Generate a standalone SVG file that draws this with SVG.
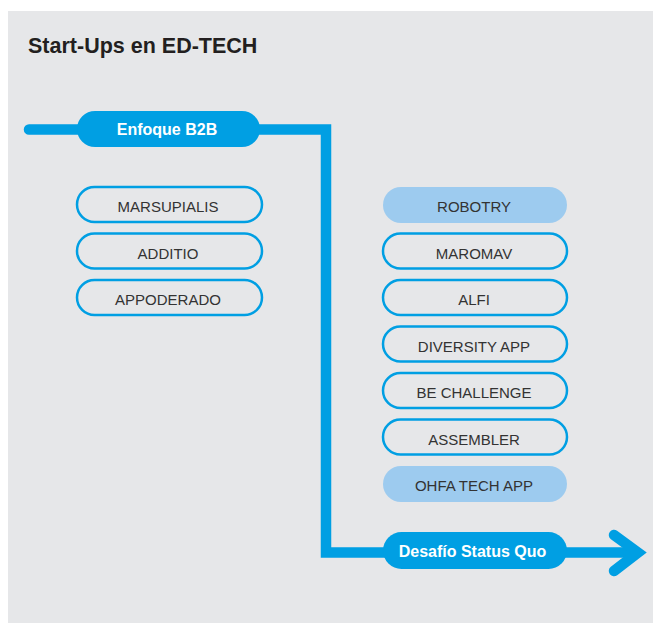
<svg xmlns="http://www.w3.org/2000/svg" width="653" height="623" viewBox="0 0 653 623">
<style>
.bg{fill:#e6e7e9}
.line{fill:none;stroke:#009fe3;stroke-width:10.5;stroke-linecap:round;stroke-linejoin:miter}
.arrow{fill:none;stroke:#009fe3;stroke-width:10.5;stroke-linecap:round;stroke-linejoin:miter}
.main{fill:#009fe3}
.out{fill:none;stroke:#009fe3;stroke-width:2.5}
.lite{fill:#9dcbef}
.title{font-family:"Liberation Sans",Arial,sans-serif;font-weight:bold;font-size:21.5px;fill:#231f20}
.mlab{font-family:"Liberation Sans",Arial,sans-serif;font-weight:bold;font-size:16px;fill:#ffffff;text-anchor:middle}
.lab{font-family:"Liberation Sans",Arial,sans-serif;font-size:15px;fill:#333333;text-anchor:middle}
</style>
<rect class="bg" x="8" y="11" width="645" height="612"/>
<text class="title" x="28" y="53">Start-Ups en ED-TECH</text>
<g id="connectors">
<path class="line" d="M29,129.5 H326 V552.5 H634"/>
<path class="arrow" d="M614,535 L638,552.5 L614,571"/>
</g>
<g id="enfoque"><rect class="main" x="77" y="111" width="183" height="36" rx="18"/><text class="mlab" x="167" y="135">Enfoque B2B</text></g>
<g id="desafio"><rect class="main" x="383" y="532" width="184" height="37" rx="18.5"/><text class="mlab" x="472.5" y="557">Desafío Status Quo</text></g>
<g id="marsupialis"><rect class="out" x="77" y="187" width="185" height="35" rx="17.5"/><text class="lab" x="168" y="212">MARSUPIALIS</text></g>
<g id="additio"><rect class="out" x="77" y="233.5" width="185" height="35" rx="17.5"/><text class="lab" x="168" y="258.5">ADDITIO</text></g>
<g id="appoderado"><rect class="out" x="77" y="280" width="185" height="35" rx="17.5"/><text class="lab" x="168" y="305">APPODERADO</text></g>
<g id="robotry"><rect class="lite" x="383" y="187" width="184" height="36" rx="18"/><text class="lab" x="474" y="212">ROBOTRY</text></g>
<g id="maromav"><rect class="out" x="383" y="233.5" width="184" height="35" rx="17.5"/><text class="lab" x="474" y="258.5">MAROMAV</text></g>
<g id="alfi"><rect class="out" x="383" y="280" width="184" height="35" rx="17.5"/><text class="lab" x="474" y="305">ALFI</text></g>
<g id="diversity"><rect class="out" x="383" y="326.5" width="184" height="35" rx="17.5"/><text class="lab" x="474" y="351.5">DIVERSITY APP</text></g>
<g id="bechallenge"><rect class="out" x="383" y="373" width="184" height="35" rx="17.5"/><text class="lab" x="474" y="398">BE CHALLENGE</text></g>
<g id="assembler"><rect class="out" x="383" y="419.5" width="184" height="35" rx="17.5"/><text class="lab" x="474" y="444.5">ASSEMBLER</text></g>
<g id="ohfa"><rect class="lite" x="383" y="466" width="184" height="36" rx="18"/><text class="lab" x="474" y="491">OHFA TECH APP</text></g>
</svg>
